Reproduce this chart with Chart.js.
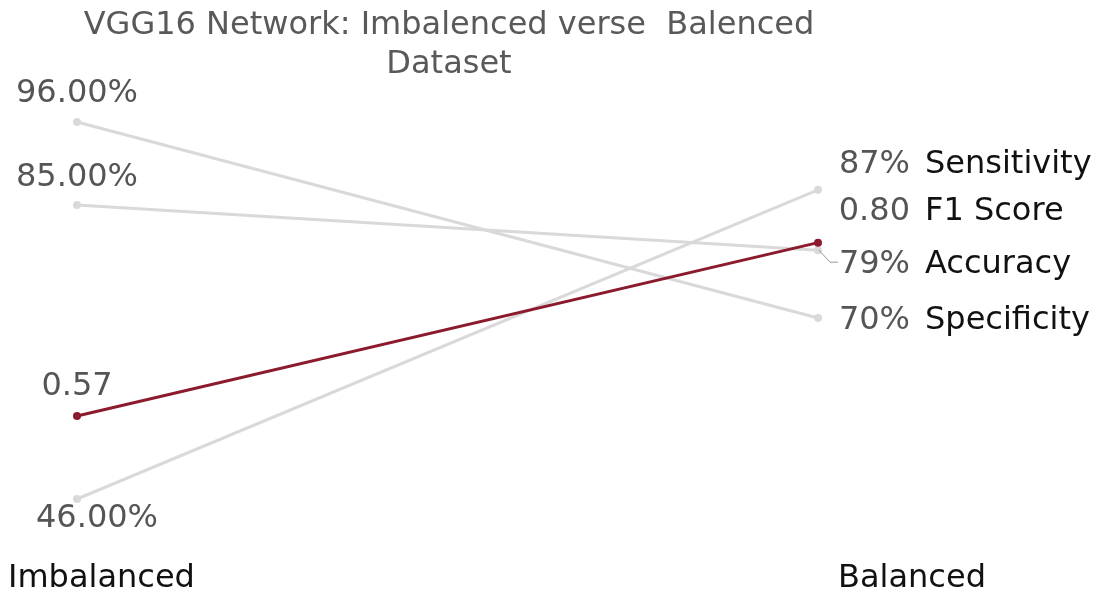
<!DOCTYPE html>
<html>
<head>
<meta charset="utf-8">
<script src="https://cdn.jsdelivr.net/npm/chart.js@4"></script>
<style>
  html, body { margin: 0; padding: 0; background: #fff; }
</style>
</head>
<body>
<canvas id="slopeChart" width="1094" height="594"></canvas>
<script>
// data
const periods = ['Imbalanced', 'Balanced'];
const metrics = ['Sensitivity', 'Specificity', 'Accuracy', 'F1 Score'];
const imbalancedValues = [46, 96, 85, 0.57];
const balancedValues = [87, 70, 79, 0.80];
const imbalancedLabels = ['46.00%', '96.00%', '85.00%', '0.57'];
const balancedLabels = ['87%', '70%', '79%', '0.80'];

// F1 is a 0-1 score, others are percentages; put F1 on the same 0-100 scale
const toScale = (v, i) => metrics[i] === 'F1 Score' ? v * 100 : v;

const GREY = '#d9d9d9';
const RED = '#8b1a2c';
const FONT = '32px "DejaVu Sans", Verdana, sans-serif';

// label nudges (px) so the texts don't collide
const leftNudge = [[20, 20], [0, -28], [0, -27], [0, -29]];
const rightNudge = [-25, 3, 15, -31];

const labelPlugin = {
    id: 'slopeLabels',
    afterDatasetsDraw(chart) {
        const ctx = chart.ctx;
        ctx.save();
        ctx.font = FONT;
        ctx.textBaseline = 'middle';
        chart.data.datasets.forEach((ds, i) => {
            const pts = chart.getDatasetMeta(i).data;
            const a = pts[0], b = pts[1];
            // left value
            ctx.fillStyle = '#555555';
            ctx.textAlign = 'center';
            ctx.fillText(imbalancedLabels[i], a.x + leftNudge[i][0], a.y + leftNudge[i][1]);
            // right value + name
            const ry = b.y + rightNudge[i];
            ctx.textAlign = 'right';
            ctx.fillText(balancedLabels[i], b.x + 92, ry);
            ctx.fillStyle = '#111111';
            ctx.textAlign = 'left';
            ctx.fillText(metrics[i], b.x + 107, ry);
            if (metrics[i] === 'Accuracy') {
                ctx.strokeStyle = '#9a9a9a';
                ctx.lineWidth = 1;
                ctx.beginPath();
                ctx.moveTo(b.x + 1, b.y);
                ctx.lineTo(b.x + 12, ry - 3);
                ctx.lineTo(b.x + 20, ry - 3);
                ctx.stroke();
            }
        });
        // title
        ctx.fillStyle = '#595959';
        ctx.textAlign = 'center';
        ctx.font = '32px "DejaVu Sans", Verdana, sans-serif';
        ctx.fillText('VGG16 Network: Imbalenced verse  Balenced', 449, 26);
        ctx.fillText('Dataset', 449, 65);
        // period labels
        const xs = chart.scales.x;
        ctx.fillStyle = '#111111';
        ctx.font = FONT;
        ctx.textAlign = 'left';
        ctx.fillText(periods[0], xs.getPixelForValue(0) - 69, 579);
        ctx.fillText(periods[1], xs.getPixelForValue(1) + 20, 579);
        ctx.restore();
    }
};

new Chart(document.getElementById('slopeChart').getContext('2d'), {
    type: 'line',
    data: {
        labels: periods,
        datasets: metrics.map((name, i) => {
            const col = name === 'F1 Score' ? RED : GREY;
            return {
                label: name,
                data: [toScale(imbalancedValues[i], i), toScale(balancedValues[i], i)],
                borderColor: col,
                backgroundColor: col,
                pointBackgroundColor: col,
                pointBorderWidth: 0,
                pointRadius: 4,
                borderWidth: 3,
                order: name === 'F1 Score' ? 0 : 1,
                clip: false
            };
        })
    },
    options: {
        responsive: false,
        animation: false,
        layout: { padding: { left: 77, right: 276, top: 122, bottom: 95 } },
        scales: {
            x: { display: false, offset: false },
            y: { display: false, min: 46, max: 96 }
        },
        plugins: {
            legend: { display: false },
            title: { display: false },
            tooltip: { enabled: false }
        }
    },
    plugins: [labelPlugin]
});
</script>
</body>
</html>
